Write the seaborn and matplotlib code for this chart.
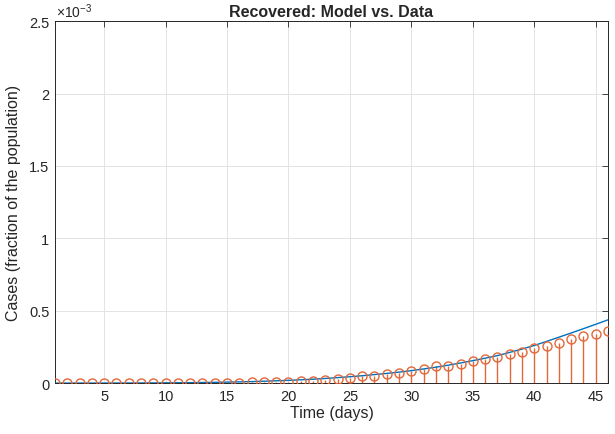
import numpy as np
import pandas as pd
import matplotlib
matplotlib.use("Agg")
import matplotlib.pyplot as plt
from matplotlib.ticker import FuncFormatter
import seaborn as sns

# ---- data ------------------------------------------------------------------
days = list(range(1, 47))
recovered_data = [
    0, 0, 0, 0, 0, 0, 0, 0, 0, 5e-7,
    1e-6, 1e-6, 1.5e-6, 2e-6, 3e-6, 4e-6, 5e-6, 6e-6, 8e-6, 1e-5,
    1.2e-5, 1.5e-5, 1.9e-5, 2.8e-5, 3.7e-5, 4.6e-5, 5.1e-5, 6.2e-5, 6.9e-5, 8.1e-5,
    9.7e-5, 1.16e-4, 1.2e-4, 1.34e-4, 1.53e-4, 1.67e-4, 1.78e-4, 2.01e-4, 2.13e-4, 2.43e-4,
    2.59e-4, 2.78e-4, 3.03e-4, 3.24e-4, 3.42e-4, 3.58e-4,
]
recovered_model = [
    0, 5e-8, 1e-7, 2e-7, 3e-7, 4e-7, 6e-7, 9e-7, 1.3e-6, 1.8e-6,
    2.4e-6, 3.2e-6, 4.2e-6, 5.4e-6, 6.8e-6, 8.5e-6, 1.05e-5, 1.3e-5, 1.6e-5, 1.9e-5,
    2.3e-5, 2.7e-5, 3.2e-5, 3.8e-5, 4.4e-5, 5.1e-5, 5.9e-5, 6.7e-5, 7.6e-5, 8.6e-5,
    9.8e-5, 1.1e-4, 1.24e-4, 1.39e-4, 1.55e-4, 1.72e-4, 1.9e-4, 2.12e-4, 2.35e-4, 2.6e-4,
    2.88e-4, 3.17e-4, 3.46e-4, 3.76e-4, 4.06e-4, 4.37e-4,
]
x_ticks = [5, 10, 15, 20, 25, 30, 35, 40, 45]
y_ticks = [0, 0.5e-3, 1e-3, 1.5e-3, 2e-3, 2.5e-3]

BLUE = "#0072BD"
ORANGE = "#E2673A"
DARK = "#262626"

sns.set_style("whitegrid")
plt.rcParams["font.family"] = ["Liberation Sans", "DejaVu Sans"]
plt.rcParams["mathtext.fontset"] = "custom"
plt.rcParams["mathtext.rm"] = "Liberation Sans"

df = pd.DataFrame({"day": days, "data": recovered_data, "model": recovered_model})

fig = plt.figure(figsize=(6.15, 4.35), dpi=100)
ax = fig.add_axes([0.0894, 0.117, 0.8992, 0.832])

sns.lineplot(data=df, x="day", y="model", color=BLUE, lw=1.0, ax=ax, zorder=3)
ax.vlines(df["day"], 0, df["data"], color=ORANGE, lw=1.0, zorder=2)
ax.plot(df["day"], df["data"], "o", ms=6.5, mfc="none", mec=ORANGE, mew=1.0, zorder=4)

ax.set_xlim(1, 46)
ax.set_ylim(0, 2.5e-3)
ax.set_xticks(x_ticks)
ax.set_yticks(y_ticks)
ax.yaxis.set_major_formatter(FuncFormatter(lambda v, p: f"{v * 1e3:g}"))
ax.text(0.002, 1.004, r"$\times\mathregular{10^{-3}}$", transform=ax.transAxes,
        fontsize=10, color=DARK, ha="left", va="bottom")

ax.grid(True, color="#e3e3e3", lw=0.7)
for s in ax.spines.values():
    s.set_visible(True)
    s.set_color(DARK)
    s.set_linewidth(0.7)
ax.tick_params(direction="in", length=4, width=0.6, color=DARK,
               top=True, right=True, labelsize=10.5, labelcolor=DARK, pad=4)

ax.set_xlabel("Time (days)", fontsize=11.5, color=DARK, labelpad=2)
ax.set_ylabel("Cases (fraction of the population)", fontsize=11.5, color=DARK, labelpad=6)
ax.set_title("Recovered: Model vs. Data", fontsize=11.5, fontweight="bold", pad=4)

fig.savefig("out.png", dpi=100)
